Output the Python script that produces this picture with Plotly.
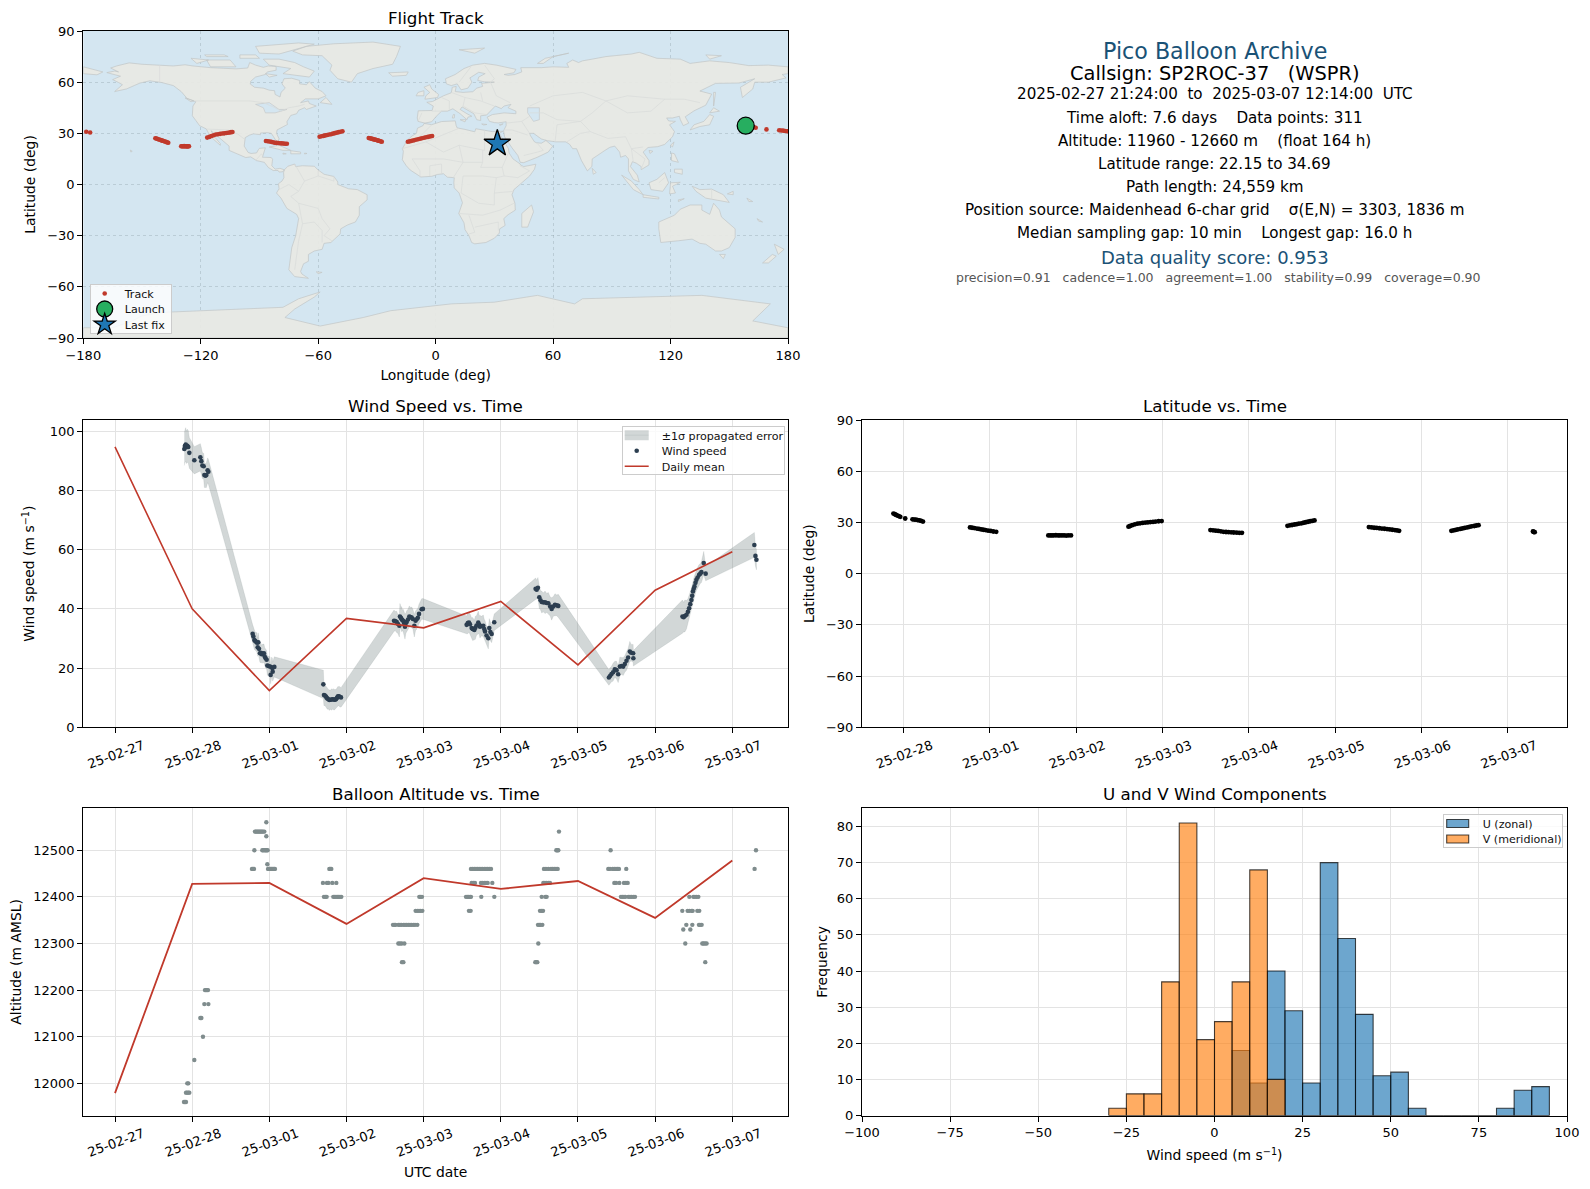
import pandas as pd
import plotly.graph_objects as go

W, H = 1590, 1189
FONT = "DejaVu Sans"
DAY0 = pd.Timestamp("2025-02-27")

# ---------- readings from the picture (days are counted from 25-02-27) ----------
wind_days = [
 .898,.905,.916,.925,.937,.95,.963,1.028,1.106,1.119,1.132,1.149,1.158,1.172,1.184,1.2,1.21,
 1.784,1.793,1.806,1.815,1.823,1.84,1.849,1.857,1.866,1.879,1.89,1.90,1.915,1.93,1.94,1.952,1.965,1.974,1.99,2.009,2.017,2.03,2.039,2.043,2.065,
 2.70,2.708,2.72,2.734,2.742,2.752,2.765,2.778,2.79,2.808,2.822,2.838,2.85,2.864,2.875,2.886,2.897,2.907,2.929,
 3.616,3.63,3.65,3.665,3.685,3.693,3.705,3.715,3.725,3.737,3.748,3.758,3.77,3.78,3.797,3.814,3.83,3.845,3.86,3.879,3.895,3.91,3.925,3.94,3.974,3.99,
 4.557,4.572,4.587,4.60,4.622,4.635,4.657,4.67,4.685,4.708,4.72,4.73,4.75,4.773,4.785,4.795,4.815,4.838,4.851,4.865,4.881,4.915,
 5.451,5.465,5.481,5.499,5.515,5.53,5.55,5.573,5.595,5.616,5.64,5.659,5.68,5.702,5.725,5.745,
 6.401,6.418,6.435,6.455,6.478,6.50,6.521,6.543,6.565,6.586,6.607,6.629,6.65,6.672,6.69,6.715,6.718,
 7.354,7.37,7.385,7.406,7.425,7.44,7.455,7.47,7.48,7.49,7.50,7.51,7.523,7.535,7.55,7.57,7.585,7.60,7.63,7.655,
 8.286,8.30,8.313]
wind_speed = [
 94.0,95.0,95.5,94.6,95.1,94.7,92.7,90.2,91.2,89.9,88.4,88.2,85.2,85.0,85.2,86.8,86.3,
 31.6,30.7,29.5,29.2,29.0,28.6,27.0,28.7,26.5,25.0,25.2,24.7,24.9,25.0,23.9,23.3,22.8,20.9,20.7,20.5,17.7,20.3,20.0,18.8,20.4,
 14.5,10.9,10.7,10.4,10.0,9.7,9.5,9.2,9.3,9.4,9.5,9.4,9.3,9.5,9.9,10.4,10.5,10.4,10.1,
 36.0,35.9,35.6,35.0,34.3,37.4,37.0,36.5,36.2,35.9,35.1,34.0,35.2,35.6,36.4,37.4,37.2,37.1,36.6,34.3,36.0,36.5,37.0,38.3,39.9,40.0,
 34.6,35.2,35.4,34.8,33.5,33.2,32.9,33.6,34.4,35.4,34.6,34.0,34.2,34.3,33.2,32.4,31.0,30.1,33.5,32.2,31.5,35.5,
 46.8,46.5,47.1,43.9,42.9,42.3,42.2,42.2,42.0,41.9,40.8,40.0,40.8,41.4,41.2,41.0,
 16.8,17.4,18.0,18.6,19.6,19.3,17.9,20.5,20.7,20.5,21.4,22.5,23.6,25.6,25.2,25.0,23.3,
 37.4,37.2,37.6,38.0,39.0,40.2,41.6,43.0,44.4,45.9,46.8,47.6,48.8,49.8,50.6,51.5,51.9,52.4,55.5,51.9,
 61.6,57.9,56.6]
wind_sigma = [
 5.6,5.6,5.7,5.5,5.6,5.5,5.2,4.6,4.6,4.5,4.4,4.3,4.2,4.0,4.2,4.2,4.2,
 3.0,3.0,3.2,3.0,3.1,3.3,3.0,3.2,3.0,3.1,3.3,3.0,3.2,3.1,3.0,3.2,3.1,3.3,3.2,3.3,3.0,3.4,3.3,3.2,3.4,
 4.8,3.6,3.3,3.5,3.3,3.6,3.3,3.5,3.2,3.6,3.3,3.6,3.3,3.4,3.2,3.3,3.2,3.4,3.3,
 3.6,3.2,3.6,3.2,3.8,4.4,3.6,4.2,3.4,3.9,3.4,4.2,3.4,3.8,3.4,3.6,3.3,3.5,3.3,3.8,3.3,3.4,3.2,3.3,3.5,3.5,
 3.0,3.6,3.2,3.6,3.4,3.9,3.3,3.9,3.3,3.8,3.2,3.8,3.3,3.6,3.3,3.6,3.2,3.6,3.2,3.0,2.9,2.8,
 3.6,3.2,3.5,3.8,3.2,3.7,3.2,3.8,3.2,3.6,3.2,3.8,3.3,3.7,3.5,3.9,
 2.6,2.8,2.6,3.0,2.7,3.0,2.8,3.2,2.8,3.0,2.8,3.2,3.0,3.4,2.8,3.0,2.6,
 5.6,5.0,5.4,4.8,4.4,4.2,4.0,3.9,3.6,3.8,3.5,3.6,3.4,3.6,3.4,3.5,3.3,3.5,3.9,2.4,
 4.2,3.4,3.4]
daily_days = [0, 1, 2, 3, 4, 5, 6, 7, 8]
daily_wind = [94.7, 40.0, 12.4, 36.8, 33.6, 42.5, 21.1, 46.3, 59.3]
daily_alt = [11979, 12428, 12430, 12342, 12440, 12417, 12434, 12355, 12478]

track_days = [
 .884,.90,.915,.93,.945,.963,1.02,1.105,1.125,1.145,1.165,1.185,1.205,1.226,
 1.771,1.795,1.82,1.85,1.875,1.90,1.925,1.95,1.98,2.01,2.04,2.074,
 2.678,2.70,2.72,2.74,2.765,2.79,2.81,2.835,2.86,2.885,2.91,2.94,
 3.606,3.625,3.65,3.68,3.71,3.74,3.77,3.80,3.83,3.86,3.89,3.92,3.955,3.99,
 4.555,4.585,4.615,4.645,4.675,4.705,4.735,4.765,4.795,4.825,4.86,4.89,4.92,
 5.447,5.475,5.50,5.53,5.555,5.58,5.61,5.635,5.66,5.685,5.71,5.735,5.76,
 6.39,6.42,6.45,6.48,6.51,6.54,6.57,6.60,6.63,6.66,6.69,6.715,6.74,
 7.345,7.37,7.395,7.42,7.45,7.475,7.50,7.53,7.555,7.58,7.61,7.635,7.66,
 8.29,8.30,8.31]
track_lat = [
 35.2,34.8,34.4,34.0,33.7,33.3,32.3,31.8,31.7,31.6,31.4,31.2,30.9,30.5,
 27.1,26.9,26.7,26.4,26.2,25.9,25.7,25.5,25.2,25.0,24.7,24.5,
 22.4,22.4,22.4,22.4,22.5,22.4,22.4,22.4,22.4,22.3,22.4,22.4,
 27.5,27.9,28.4,28.9,29.3,29.5,29.7,29.9,30.0,30.2,30.3,30.5,30.7,30.8,
 25.5,25.4,25.2,25.0,24.8,24.5,24.4,24.3,24.2,24.1,24.0,23.9,23.9,
 28.0,28.3,28.5,28.8,29.0,29.3,29.5,29.8,30.1,30.4,30.7,30.9,31.2,
 27.3,27.1,26.9,26.8,26.6,26.4,26.3,26.1,25.9,25.7,25.5,25.3,25.1,
 25.1,25.3,25.6,25.9,26.2,26.5,26.8,27.1,27.4,27.7,27.9,28.2,28.4,
 24.7,24.4,24.3]
track_lon = [
 158.4,159.5,160.5,161.5,162.5,163.5,169.0,175.5,176.5,177.5,178.5,179.6,-178.5,-176.5,
 -143.2,-142.6,-142.0,-141.4,-140.8,-140.2,-139.6,-139.0,-138.4,-137.8,-137.2,-136.6,
 -130.0,-129.6,-129.2,-128.9,-128.5,-128.2,-127.8,-127.5,-127.1,-126.8,-126.4,-126.0,
 -116.7,-115.6,-114.5,-113.4,-112.3,-111.2,-110.1,-109.0,-108.0,-107.0,-106.1,-105.2,-104.5,-103.8,
 -86.7,-85.8,-84.9,-84.0,-83.1,-82.2,-81.3,-80.4,-79.5,-78.6,-77.7,-76.9,-76.0,
 -59.3,-58.3,-57.3,-56.4,-55.4,-54.4,-53.4,-52.5,-51.5,-50.5,-49.5,-48.6,-47.6,
 -34.2,-33.6,-33.0,-32.5,-32.0,-31.4,-30.9,-30.3,-29.8,-29.2,-28.7,-28.1,-27.5,
 -14.2,-13.2,-12.2,-11.1,-10.1,-9.0,-8.0,-7.0,-5.9,-4.9,-3.9,-2.8,-1.8,
 31.3,31.5,31.7]
launch_lon, launch_lat = [158.4], [34.5]
lastfix_lon, lastfix_lat = [31.5], [24.0]

alt_levels = [12560,12540,12530,12500,12470,12460,12430,12400,12370,12340,12330,12300,12260,12200,12170,12140,12100,12050,12000,11980,11960]
alt_days_by_level = [
 [1.961],
 [1.814,1.827,1.840,1.853,1.866,1.879,1.892,1.905,1.918,1.935,5.754],
 [1.961],
 [1.806,1.909,1.922,1.94,1.952,1.965,1.978,5.719,5.732,5.745,6.423,8.307],
 [1.974],
 [1.775,1.788,1.801,1.983,1.996,2.009,2.022,2.035,2.048,2.061,2.073,2.778,2.79,2.803,4.613,4.635,4.657,4.678,4.70,4.72,4.743,4.764,4.786,4.808,4.83,4.851,4.873,5.559,5.585,5.616,5.65,5.672,5.693,5.715,5.737,6.393,6.415,6.45,6.471,6.493,6.514,6.531,6.626,8.289],
 [2.695,2.747,2.765,2.816,2.868,4.622,4.644,4.665,4.743,4.764,4.786,4.808,4.83,4.89,5.551,5.572,5.594,5.616,5.637,6.471,6.493,6.536,6.596,6.622,6.644],
 [2.708,2.726,2.743,2.829,2.847,2.864,2.881,2.899,2.916,2.933,3.944,3.961,3.978,4.549,4.566,4.583,4.601,4.613,4.747,4.916,5.53,5.577,5.594,6.557,6.575,6.596,6.613,6.652,6.674,6.695,6.717,6.739,7.443,7.495,7.516,7.538,7.56],
 [3.896,3.918,3.94,3.961,3.983,4.587,4.609,5.508,5.53,5.547,7.352,7.421,7.443,7.473,7.486,7.547,7.572],
 [3.603,3.62,3.637,3.672,3.693,3.711,3.737,3.758,3.78,3.801,3.823,3.844,3.866,3.888,3.918,5.482,5.499,5.516,5.538,7.404,7.482,7.568,7.581,7.603],
 [7.365,7.456],
 [3.672,3.693,3.715,3.75,5.486,7.391,7.611,7.628,7.646,7.667],
 [3.719,3.737,5.447,5.46,5.473,7.65],
 [1.166,1.179,1.192,1.205],
 [1.158,1.21],
 [1.106,1.119],
 [1.14],
 [1.028],
 [.937,.95],
 [.92,.933,.95,.963],
 [.894,.907,.92],
]

hist_left = [-30,-25,-20,-15,-10,-5,0,5,10,15,20,25,30,35,40,45,50,55,60,65,70,75,80,85,90]
u_counts =  [0,0,0,0,0,0,0,18,9,40,29,9,70,49,28,11,12,2,0,0,0,0,2,7,8]
v_counts =  [2,6,6,37,81,21,26,37,68,10,0,0,0,0,0,0,0,0,0,0,0,0,0,0,0]

date_ticks = [0,1,2,3,4,5,6,7,8]
date_labels = ["25-02-27","25-02-28","25-03-01","25-03-02","25-03-03","25-03-04","25-03-05","25-03-06","25-03-07"]

panel_lines = [
 ("Pico Balloon Archive", 22.2, "#1a5276", 50.7, 1214.5),
 ("Callsign: SP2ROC-37   (WSPR)", 19.4, "#000000", 73.0, 1214.5),
 ("2025-02-27 21:24:00  to  2025-03-07 12:14:00  UTC", 15.15, "#000000", 94.5, 1214.5),
 ("Time aloft: 7.6 days    Data points: 311", 15.15, "#000000", 117.8, 1214.5),
 ("Altitude: 11960 - 12660 m    (float 164 h)", 15.15, "#000000", 141.0, 1214.5),
 ("Latitude range: 22.15 to 34.69", 15.15, "#000000", 163.5, 1214.5),
 ("Path length: 24,559 km", 15.15, "#000000", 186.8, 1214.5),
 ("Position source: Maidenhead 6-char grid    σ(E,N) = 3303, 1836 m", 15.15, "#000000", 210.0, 1214.5),
 ("Median sampling gap: 10 min    Longest gap: 16.0 h", 15.15, "#000000", 233.0, 1214.5),
 ("Data quality score: 0.953", 18.0, "#1a5276", 257.5, 1214.5),
 ("precision=0.91   cadence=1.00   agreement=1.00   stability=0.99   coverage=0.90", 12.5, "#555555", 278.0, 1218.0),
]

# Coarse outlines read by eye from the base map (lon, lat)
land_outlines = [
 [(-168,65.6),(-164,66.5),(-162,66),(-166,68.3),(-163,69.5),(-156.6,71.3),(-150,70.5),(-141,69.7),(-134,69.5),(-128,70.2),(-124,69.5),(-115,68.5),(-108,68),(-102,67.8),(-96,68.3),(-95,71.5),(-92,70),(-88,68.7),(-85.5,69.5),(-81.5,69.2),(-81.5,67),(-86,66),(-87,64.5),(-92,63),(-94.5,60.5),(-94.7,58.9),(-92.5,57),(-88,56.5),(-85,55.3),(-82.3,55),(-82,52.8),(-79.5,51.3),(-79,54),(-76.8,56.5),(-78.5,59),(-77.5,62),(-73.5,62.3),(-69.5,61),(-69.5,59),(-66,58.5),(-64.5,60.3),(-61.5,56.5),(-58,54.5),(-56,52),(-60,50.2),(-66.5,50.2),(-69,48),(-65,49),(-64.5,47.5),(-61,46),(-66,44),(-67,45),(-70,43.5),(-71,41.5),(-74,40.5),(-75.5,38),(-76,36.8),(-75.7,35.2),(-78,33.8),(-81,32),(-81.3,30),(-80,26.8),(-80.5,25.2),(-81.7,25.9),(-82.8,28),(-84,30),(-86,30.4),(-89.5,30.2),(-89.5,29.2),(-93,29.7),(-95,29),(-97.3,27.5),(-97.8,22.5),(-95.8,18.8),(-94.3,18.2),(-91.5,18.5),(-90.5,20.5),(-90,21.2),(-87,21.5),(-87.8,18.5),(-88.5,16),(-84,15.8),(-83.3,14.8),(-83.7,11),(-82,9),(-79.5,9.5),(-77.3,8.6),(-78,7.5),(-80,7.3),(-80.5,8.2),(-83,8.2),(-85.5,10),(-87.5,13),(-91.5,14),(-94.5,16.2),(-97,15.8),(-102,18),(-105.5,20),(-105.5,22.5),(-108.5,25.5),(-112.5,29),(-114.7,31.5),(-113,28),(-110,24),(-110,23),(-112,25),(-115,28),(-117.2,32.6),(-120.6,34.5),(-122.5,37.5),(-124.3,40.3),(-124,46),(-122.5,48.5),(-127,50.5),(-130,54.5),(-134,58),(-140,59.8),(-146,60.8),(-151,59.5),(-154,58),(-158,56),(-164,54.5),(-160,58.5),(-162,59.8),(-165,61.5),(-161,63.5),(-165,64.5)],
 [(-77.3,8.6),(-75.5,10.7),(-72,12),(-71.5,10.5),(-68,11),(-62,10.7),(-60,8.5),(-57,6),(-52,4.7),(-50,1.5),(-50,0),(-44.5,-2.5),(-40,-3),(-35,-6),(-35,-9),(-39,-13),(-39,-18),(-41,-22),(-45,-23.7),(-48.5,-26),(-48.8,-29),(-53.5,-34),(-57,-34.5),(-58,-38),(-62,-39),(-65,-41),(-65,-45),(-67.5,-46.5),(-69,-51),(-68.3,-52.5),(-65,-55),(-72,-54),(-75,-50),(-74,-43),(-73.5,-37),(-71.5,-30),(-70,-20),(-71,-17.5),(-76,-14),(-79,-8),(-81.3,-5),(-80,-2.5),(-80.3,0.5),(-78.5,2),(-77.5,4),(-77.7,7)],
 [(-5.9,35.8),(-2,35.1),(3,36.9),(10,37.3),(10.5,34.5),(11,33.2),(15,32.3),(20,30.9),(20.5,32.7),(25,31.7),(29,31),(32.5,31.2),(34.3,31.2),(32.5,30),(33.7,27.5),(35.5,24),(37.2,21),(37.5,18.5),(39.5,15),(43.2,12),(43.3,11.5),(45,10.5),(51.2,11.9),(50.5,9),(48,5),(43.5,0.5),(40,-3),(39,-6),(40.5,-11),(40.7,-15),(37,-17.7),(34.8,-20),(35.5,-24),(32.7,-26),(32.5,-28.5),(30,-31.5),(25.7,-34),(20,-34.8),(18.4,-34),(17,-30),(15,-26.5),(14.5,-22.5),(11.8,-17),(13.7,-10.7),(12,-5),(9.5,-2),(9.3,1),(9.5,4),(6,4.3),(4,6.3),(1,5.9),(-2,4.8),(-7.5,4.4),(-9,5.5),(-13,8.5),(-15,11),(-17,14.5),(-16.5,19.5),(-17,21),(-14.5,26),(-12,28.5),(-9.8,30),(-9.3,33),(-6.5,34.5)],
 [(-9,37),(-9.4,39),(-8.9,43.2),(-1.8,43.4),(-1.2,46),(-4.5,48.2),(-1.5,48.7),(1.5,50.5),(4,52),(8,53.8),(8.5,57),(10.5,57.5),(10,54.5),(14,54),(19,54.4),(21,56.5),(24,57.5),(23.5,59.3),(30,60),(25,60.2),(21.5,61),(22,63),(25.3,65),(22,65.8),(17.5,62.5),(18.5,60),(16.5,56.5),(13,55.5),(11,59),(8,58),(5.5,59),(5,62),(10,64.5),(14.5,68),(19,70),(25,71),(31,70),(41,67.5),(40,65.5),(35,64.5),(37,64),(40.5,64.5),(44,66),(43.5,68.5),(54,68.5),(60,69),(68,68.7),(67,71),(70,73),(73,71.5),(75,72.5),(80,73.5),(87,75),(100,76.5),(104,77.5),(113,74),(125,73.5),(130,71),(140,72.5),(150,71.5),(160,69.7),(170,70),(180,69),(180,65),(177,64.5),(179,62.5),(170,60),(163,60),(162,56),(156.7,51),(155.7,57),(163,62),(155,59.5),(143,59.3),(135,54.8),(141,53),(138,46.5),(132,43.2),(127.5,39.7),(129.3,36),(126.5,34.5),(125,38),(124.5,40),(121,39),(118,39),(119,37.3),(122.5,37),(119.5,35),(122,31),(121,28),(117,23.5),(113.5,22.2),(108.5,21.7),(106,19),(109,14),(109,11.5),(105,8.7),(105,10.5),(102.5,12.5),(100.5,13.4),(99.5,10.5),(103,5.5),(104,1.5),(101,3),(98.5,8),(98.5,15),(97,17),(94.5,16),(94,19),(91.5,22.5),(89,21.8),(86.5,20),(82,16.5),(80,15),(79.8,10.5),(77.5,8),(74.5,14),(72.7,20),(72,21),(70,21),(68.5,23.5),(66.5,25),(61.5,25),(57,25.7),(54,26.7),(50,30),(48,30),(48.5,28.5),(50.5,25),(51.5,24.5),(54,24.2),(56.3,25.8),(59.8,22.5),(57.5,19),(52,16),(45,12.8),(43.2,13),(42,17),(39,21.5),(35.2,28),(34.7,31.5),(36,34.5),(36,36.8),(32,36.1),(30,36.3),(27.5,37),(26.3,39.5),(29,41),(35,42),(41,41.5),(41,43),(37,45),(38.5,47),(35,46),(33.5,44.5),(30.5,46),(28,43),(26,40.7),(23,40.3),(23,37.5),(21,38),(19.5,41.5),(13.5,45.5),(12.5,44),(16,41.5),(18.5,40),(16.5,39.5),(16,38),(12.5,41.5),(8.8,44.4),(6,43),(3,43),(0.2,39.8),(-2,36.8),(-5.5,36)],
 [(-73,78.2),(-66,81),(-52,82.5),(-32,83.5),(-18,81),(-20,75),(-22,70.5),(-32,68),(-40,65),(-43,60),(-50,62),(-54,67),(-53,70),(-58,75.5),(-68,76)],
 [(-80,73.5),(-72,71.5),(-67.5,69),(-62,66.5),(-64.5,63),(-72,64),(-78,65),(-74,68),(-85,70),(-88,73.5)],
 [(-117,73),(-105,73),(-102,69),(-115,69)],
 [(-92,81),(-70,83),(-62,82.3),(-76,78),(-80,76.5),(-90,77)],
 [(-125,74),(-116,73),(-122,71)],
 [(-118,76),(-108,76),(-106,75),(-117,75)],
 [(-100,76),(-92,76),(-90,74),(-100,74)],
 [(-87,65),(-81,64),(-85,63)],
 [(-128,50.8),(-123.5,49),(-125,48.5)],
 [(-59,48),(-53,47),(-56,51)],
 [(-24,65.5),(-14,66),(-15,64),(-22,63.5)],
 [(-5.5,50),(1,51),(1.5,52.8),(-2,56),(-3,58.5),(-6,57),(-3,54),(-5,52)],
 [(-10,52),(-6,52),(-6,55),(-9,54)],
 [(-85,22),(-80,23),(-74,20),(-78,20)],
 [(-74,19.8),(-69,19),(-69,18),(-74,18)],
 [(-78,18.4),(-76.3,18),(-78,17.8)],
 [(-67,18.4),(-65.7,18.2),(-67,17.9)],
 [(-156,20.2),(-155,19.5),(-155.7,19)],
 [(-61,-51.2),(-58,-51.5),(-60,-52.3)],
 [(49,-12),(50,-16),(47,-25),(44,-25),(44,-17)],
 [(130,32),(135,34),(140,35),(142,40),(140,41),(137,37),(132,35)],
 [(140,42),(145,43),(142,45)],
 [(142,46),(143,54),(142,54)],
 [(120.5,18.5),(122,18),(124,13),(120.5,14)],
 [(122,9),(126,9),(126,6),(122,7)],
 [(120,23),(121.8,25),(121,22)],
 [(109,20),(111,19.5),(109.5,18.2)],
 [(80,9.5),(82,7),(80.5,6)],
 [(95,5.5),(100,2),(104,-3),(106,-6),(101,-3)],
 [(106,-6),(114,-7.5),(114,-8.5),(106,-7.5)],
 [(109,1),(113,3),(117,7),(119,1),(116,-4),(110,-3)],
 [(120,1),(125,1.3),(121,-1),(122.5,-5),(119.5,-5.5)],
 [(124,-9),(127,-8.3),(124,-10)],
 [(131,-1),(135,-3),(141,-2.7),(147,-6),(150,-10.5),(143,-9),(138,-8),(133,-4)],
 [(149,-5.5),(152,-4),(152,-6)],
 [(159,-8),(162,-10),(160,-10)],
 [(164.2,-20),(167,-22),(165,-21.5)],
 [(114,-22),(122,-18),(125,-14.5),(130,-12),(136,-12),(136,-15),(140,-17.5),(142,-11),(145,-15),(146,-19),(153,-26),(153,-31),(150,-37),(146,-39),(143,-39),(138,-35),(135,-34.5),(131,-32),(124,-33),(115,-34),(114,-26)],
 [(145,-41),(148,-41),(147,-43.5)],
 [(173,-35),(178,-38),(175,-41)],
 [(167,-46),(172,-41),(174,-42),(170,-46)],
 [(9,41),(9.7,41),(9.5,39),(8.5,39)],
 [(12.5,38),(15.5,38),(15,36.7)],
 [(23.5,35.5),(26.2,35.2),(24.5,34.9)],
 [(32.5,35),(34.5,35.6),(33,34.6)],
 [(52,71),(56,74),(68,77),(60,75),(55,71)],
 [(12,79),(25,80),(20,77)],
 [(138,76),(146,75.5),(140,73.5)],
 [(-180,-84),(-165,-84),(-155,-80),(-150,-77),(-140,-75),(-119,-74),(-103,-73),(-78,-72),(-70,-67),(-59,-63),(-62,-66),(-72,-73),(-77,-78),(-59,-83),(-37,-78),(-23,-74),(8,-70),(30,-69),(52,-65),(71,-70),(75,-67),(113,-66),(136,-65),(171,-70),(162,-80),(180,-84),(180,-90),(-180,-90)],
 [(-180,69),(-175,67.5),(-170,66),(-173,64.3),(-180,65)],
]
water_outlines = [
 [(47,45),(53,45),(53,38),(50,37),(47,42)],
 [(-92,47),(-85,48),(-80,44),(-76,44),(-82,42),(-87,42),(-88,45)],
]
border_lines = [
 [(-141,70),(-141,60)],[(-123,49),(-95,49),(-88,48),(-82,45),(-79,43),(-75,45),(-70,46),(-67,47)],
 [(-117,32.5),(-106,32),(-101,29.5),(-97,26)],[(-92,14),(-89,18),(-88,16)],
 [(-72,12),(-67,2),(-70,-4),(-74,-7),(-70,-11),(-69,-18),(-68,-23),(-70,-33),(-72,-50)],
 [(-70,-11),(-60,-14),(-58,-20),(-54,-26),(-57,-30),(-53,-33)],[(-68,-23),(-62,-22),(-58,-27),(-58,-34)],
 [(-67,2),(-60,5),(-60,8)],[(-60,5),(-52,2),(-52,5)],[(-80,-3),(-75,0),(-70,-4)],
 [(-9,37),(-7,42)],[(-2,43),(3,43)],[(3,51),(7,49),(7,44)],[(8,54),(15,51),(23,49),(30,46)],[(15,51),(14,46),(20,42),(26,41)],[(23,54),(24,49)],[(28,60),(31,52),(38,48)],
 [(25,70),(30,62),(28,60)],[(12,60),(18,69)],[(48,46),(60,52),(75,54),(87,49),(98,52),(117,50),(127,50),(135,48)],[(87,49),(80,42),(74,37),(62,35),(61,25)],
 [(48,42),(55,42),(62,38),(74,37)],[(87,49),(98,42),(110,43),(117,50)],[(74,37),(79,31),(88,27),(97,28),(100,21),(106,22)],[(67,25),(74,30),(79,31)],[(100,21),(101,13)],[(105,9),(107,15),(100,21)],
 [(36,36),(44,37),(48,30)],[(44,37),(48,40)],[(35,32),(39,32),(47,29)],[(52,24),(55,20),(52,19),(45,17)],
 [(-9,27),(-2,35)],[(-17,21),(-5,25),(12,33)],[(-5,25),(4,19),(12,23),(25,20),(25,32)],[(12,23),(14,13),(24,13),(24,20)],[(24,13),(23,10),(34,10),(37,18)],[(34,10),(35,5),(42,4),(48,8),(43,11)],
 [(-12,15),(-5,15),(4,15),(14,13)],[(-12,15),(-8,8),(-8,4)],[(-3,5),(-3,11),(3,12),(3,6)],[(14,13),(9,4)],[(14,5),(24,5),(31,4),(35,5)],[(14,5),(13,-5),(22,-11),(30,-12),(30,-5),(31,4)],[(30,-5),(40,-4)],[(12,-17),(24,-18),(33,-15),(40,-11)],[(17,-18),(20,-28),(17,-29)],[(20,-25),(32,-22),(32,-27)],
 [(114,1),(117,4)],[(141,-3),(141,-9)],
]


def dates(days):
    return [DAY0 + pd.Timedelta(days=float(d)) for d in days]


def flatten_outline(outlines):
    xs, ys = [], []
    for poly in outlines:
        xs += [p[0] for p in poly] + [poly[0][0], None]
        ys += [p[1] for p in poly] + [poly[0][1], None]
    return xs, ys


def flatten_lines(lines):
    xs, ys = [], []
    for line in lines:
        xs += [p[0] for p in line] + [None]
        ys += [p[1] for p in line] + [None]
    return xs, ys


fig = go.Figure()

# ---------- map ----------
lx, ly = flatten_outline(land_outlines)
fig.add_trace(go.Scatter(x=lx, y=ly, mode="lines", fill="toself", fillcolor="rgba(232,232,228,0.93)",
                         line=dict(color="#c2c5c5", width=0.7), showlegend=False, hoverinfo="skip", xaxis="x", yaxis="y"))
wx, wy = flatten_outline(water_outlines)
fig.add_trace(go.Scatter(x=wx, y=wy, mode="lines", fill="toself", fillcolor="#d4e6f1",
                         line=dict(color="#c2c5c5", width=0.6), showlegend=False, hoverinfo="skip", xaxis="x", yaxis="y"))
bx, by = flatten_lines(border_lines)
fig.add_trace(go.Scatter(x=bx, y=by, mode="lines", line=dict(color="#d8dbda", width=0.7),
                         showlegend=False, hoverinfo="skip", xaxis="x", yaxis="y"))
fig.add_trace(go.Scatter(x=track_lon, y=track_lat, mode="markers", name="Track",
                         marker=dict(color="#c0392b", size=4.6), legend="legend", xaxis="x", yaxis="y"))
fig.add_trace(go.Scatter(x=launch_lon, y=launch_lat, mode="markers", name="Launch",
                         marker=dict(color="#27ae60", size=17, line=dict(color="black", width=1.3)),
                         legend="legend", xaxis="x", yaxis="y"))
fig.add_trace(go.Scatter(x=lastfix_lon, y=lastfix_lat, mode="markers", name="Last fix",
                         marker=dict(color="#1f77b4", size=20, symbol="star", line=dict(color="black", width=1.3)),
                         legend="legend", xaxis="x", yaxis="y"))

# ---------- wind ----------
t = dates(wind_days)
upper = [v + s for v, s in zip(wind_speed, wind_sigma)]
lower = [v - s for v, s in zip(wind_speed, wind_sigma)]
fig.add_trace(go.Scatter(x=t + t[::-1], y=upper + lower[::-1], mode="lines", fill="toself", name="±1σ propagated error",
                         fillcolor="rgba(127,140,141,0.35)", line=dict(color="rgba(127,140,141,0.25)", width=0.6),
                         legend="legend2", xaxis="x2", yaxis="y2"))
fig.add_trace(go.Scatter(x=t, y=wind_speed, mode="markers", name="Wind speed",
                         marker=dict(color="#2c3e50", size=4.6), legend="legend2", xaxis="x2", yaxis="y2"))
fig.add_trace(go.Scatter(x=dates(daily_days), y=daily_wind, mode="lines", name="Daily mean",
                         line=dict(color="#c0392b", width=1.6), legend="legend2", xaxis="x2", yaxis="y2"))

# ---------- latitude ----------
fig.add_trace(go.Scatter(x=dates(track_days), y=track_lat, mode="markers",
                         marker=dict(color="black", size=4.8), showlegend=False, xaxis="x3", yaxis="y3"))

# ---------- altitude ----------
alt_x, alt_y = [], []
for level, ds in zip(alt_levels, alt_days_by_level):
    alt_x += ds
    alt_y += [level] * len(ds)
fig.add_trace(go.Scatter(x=dates(alt_x), y=alt_y, mode="markers",
                         marker=dict(color="#7f8c8d", size=4.4), showlegend=False, xaxis="x4", yaxis="y4"))
fig.add_trace(go.Scatter(x=dates(daily_days), y=daily_alt, mode="lines",
                         line=dict(color="#c0392b", width=1.8), showlegend=False, xaxis="x4", yaxis="y4"))

# ---------- histogram ----------
centres = [b + 2.5 for b in hist_left]
edge = dict(color="rgba(0,0,0,0.72)", width=1.1)
fig.add_trace(go.Bar(x=centres, y=u_counts, width=5, name="U (zonal)", marker=dict(color="rgba(31,119,180,0.65)", line=edge),
                     legend="legend3", xaxis="x5", yaxis="y5"))
fig.add_trace(go.Bar(x=centres, y=v_counts, width=5, name="V (meridional)", marker=dict(color="rgba(255,127,14,0.65)", line=edge),
                     legend="legend3", xaxis="x5", yaxis="y5"))

# ---------- axes ----------
def dx(a, b):
    return [a / W, b / W]


def dy(top, bottom):
    return [1 - bottom / H, 1 - top / H]


TF = dict(family=FONT, size=13.0, color="black")
LF = dict(family=FONT, size=13.9, color="black")
GRID = "#e3e3e3"
MAPGRID = "rgba(120,135,145,0.28)"
OCEAN = "#d4e6f1"


def base(**kw):
    d = dict(showline=True, linecolor="black", linewidth=1.1, mirror=True, ticks="outside", ticklen=5, tickwidth=1.1,
             tickcolor="black", tickfont=TF, showgrid=True, gridcolor=GRID, gridwidth=1, zeroline=False)
    d.update(kw)
    return d


def title(text, standoff):
    return dict(text=text, font=LF, standoff=standoff)


def date_axis(domain, anchor, rng, ticks, labels, title_text=None):
    d = base(domain=domain, anchor=anchor, type="date", range=rng, tickmode="array",
             tickvals=dates(ticks), ticktext=labels, tickangle=-20, ticklabelshift=28)
    if title_text:
        d["title"] = title(title_text, 8)
    return d


LEFT = dx(83.3, 788)
RIGHT = dx(862, 1567)
R_LEFT = dates([-0.411, 8.722])
R_LAT = dates([0.52, 8.684])

layout = dict(
    width=W, height=H, margin=dict(l=0, r=0, t=0, b=0, autoexpand=False), paper_bgcolor="white", plot_bgcolor="white",
    font=dict(family=FONT, color="black"), barmode="overlay", hovermode=False, autosize=False,
    shapes=[dict(type="rect", xref="x domain", yref="y domain", x0=0, x1=1, y0=0, y1=1, layer="below",
                 fillcolor=OCEAN, line=dict(width=0))],
    xaxis=base(domain=LEFT, anchor="y", range=[-180, 180], tickmode="array", tickvals=[-180,-120,-60,0,60,120,180],
               gridcolor=MAPGRID, griddash="dot", gridwidth=0.7, title=title("Longitude (deg)", 8)),
    yaxis=base(domain=dy(31, 338), anchor="x", range=[-90, 90], tickmode="array", tickvals=[-90,-60,-30,0,30,60,90],
               gridcolor=MAPGRID, griddash="dot", gridwidth=0.7, title=title("Latitude (deg)", 8)),
    xaxis2=date_axis(LEFT, "y2", R_LEFT, date_ticks, date_labels),
    yaxis2=base(domain=dy(420, 727.3), anchor="x2", range=[0, 103.8], tickmode="array", tickvals=[0,20,40,60,80,100],
                title=title("Wind speed (m s<sup>−1</sup>)", 11)),
    xaxis3=date_axis(RIGHT, "y3", R_LAT, date_ticks[1:], date_labels[1:]),
    yaxis3=base(domain=dy(420, 727.3), anchor="x3", range=[-90, 90], tickmode="array", tickvals=[-90,-60,-30,0,30,60,90],
                title=title("Latitude (deg)", 8)),
    xaxis4=date_axis(LEFT, "y4", R_LEFT, date_ticks, date_labels, "UTC date"),
    yaxis4=base(domain=dy(808.3, 1115.5), anchor="x4", range=[11931, 12590], tickmode="array",
                tickvals=[12000,12100,12200,12300,12400,12500], tickformat="d",
                title=title("Altitude (m AMSL)", 8)),
    xaxis5=base(domain=RIGHT, anchor="y5", range=[-100, 100], tickmode="array", tickvals=[-100,-75,-50,-25,0,25,50,75,100],
                title=title("Wind speed (m s<sup>−1</sup>)", 11)),
    yaxis5=base(domain=dy(808.3, 1115.5), anchor="x5", range=[0, 85.05], tickmode="array", tickvals=list(range(0, 81, 10)),
                title=title("Frequency", 5.5)),
)

LEG_FONT = dict(family=FONT, size=11.1, color="#111111")


def legend(x_px, y_px, **kw):
    d = dict(x=x_px / W, y=1 - y_px / H, xanchor="left", yanchor="top", bgcolor="rgba(255,255,255,0.8)", bordercolor="#cccccc",
             borderwidth=1, font=LEG_FONT, tracegroupgap=0, itemclick=False, itemdoubleclick=False, itemwidth=30)
    d.update(kw)
    return d


layout["legend"] = legend(89.7, 284, itemsizing="trace")
layout["legend2"] = legend(621.7, 425.7)
layout["legend3"] = legend(1442.7, 814)
fig.update_layout(**layout)

# ---------- text: subplot titles and the summary panel ----------
subplot_titles = [("Flight Track", 435.6, 18), ("Wind Speed vs. Time", 435.6, 405.5), ("Latitude vs. Time", 1214.5, 405.5),
                  ("Balloon Altitude vs. Time", 435.6, 794), ("U and V Wind Components", 1214.5, 794)]
for text, xp, yp in subplot_titles:
    fig.add_annotation(text=text, x=xp / W, y=1 - yp / H, xref="paper", yref="paper", xanchor="center", yanchor="middle",
                       showarrow=False, font=dict(family=FONT, size=16.7, color="black"))
for text, size, color, yp, xp in panel_lines:
    fig.add_annotation(text=text, x=xp / W, y=1 - yp / H, xref="paper", yref="paper", xanchor="center", yanchor="middle",
                       showarrow=False, font=dict(family=FONT, size=size, color=color))

# Tighter legend rows and swatches than plotly's default metrics allow.
LEGEND_TWEAK = """
document.body.style.margin='0';document.body.style.overflow='hidden';
document.querySelectorAll('g.legend, g.legend2, g.legend3').forEach(function(g){
  var rows=g.querySelectorAll('g.traces'),rowH=15.5,pad=9.5;
  rows.forEach(function(r,i){
    r.setAttribute('transform','translate(0,'+(pad+i*rowH)+')');
    r.querySelectorAll('text.legendtext').forEach(function(t){t.setAttribute('transform','translate(-5,0)');});
    r.querySelectorAll('g.legendlines path').forEach(function(p){p.setAttribute('d','M3,0h24');});
    r.querySelectorAll('g.legendfill path').forEach(function(p){p.setAttribute('d','M3,-5h24v10h-24z');});
    r.querySelectorAll('g.legendpoints path:not(.scatterpts)').forEach(function(p){p.setAttribute('d','M11,4H-11V-4H11Z');p.setAttribute('transform','translate(15,0)');});
    r.querySelectorAll('path.scatterpts').forEach(function(p){p.setAttribute('transform','translate(15,0)');});
  });
  var bg=g.querySelector('rect.bg');
  bg.setAttribute('height',rows.length*rowH+2);
  bg.setAttribute('width',parseFloat(bg.getAttribute('width'))-6);
});
"""
fig.write_html("out.html", config={"displayModeBar": False}, post_script=LEGEND_TWEAK)
